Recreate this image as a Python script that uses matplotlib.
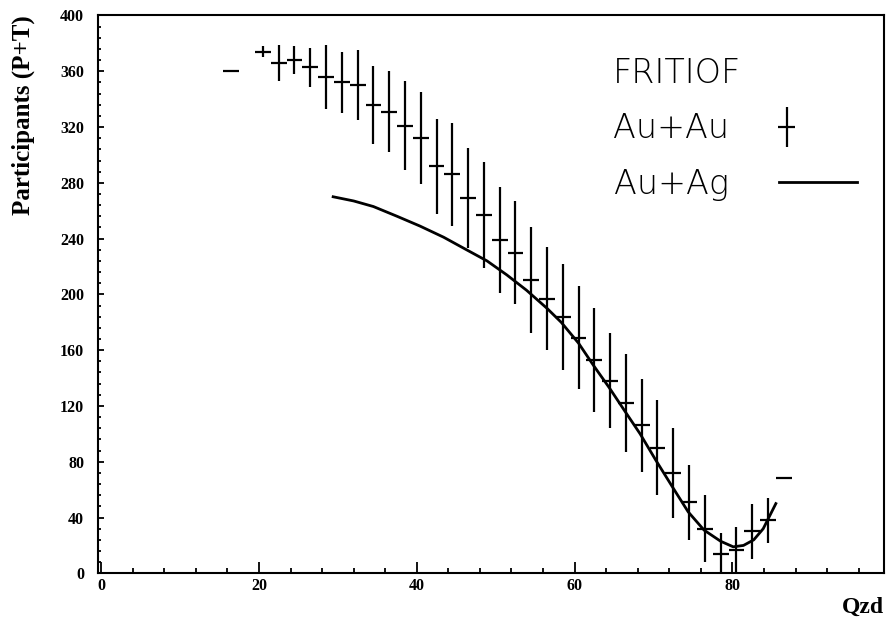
"""
FRITIOF participants vs Qzd: Au+Au histogram points with errors, Au+Ag curve.
"""

import matplotlib
matplotlib.use('Agg')
import matplotlib.pyplot as plt
from matplotlib.ticker import MultipleLocator
from matplotlib.legend_handler import HandlerErrorbar

# --- data ---
au_x = [16.5, 20.5, 22.5, 24.5, 26.5, 28.5, 30.5, 32.5, 34.5, 36.5, 38.5,
        40.5, 42.5, 44.5, 46.5, 48.5, 50.5, 52.5, 54.5, 56.5, 58.5, 60.5,
        62.5, 64.5, 66.5, 68.5, 70.5, 72.5, 74.5, 76.5, 78.5, 80.5, 82.5,
        84.5, 86.5]
au_y = [360, 374, 366, 368, 363, 356, 352, 350, 336, 331, 321,
        312, 292, 286, 269, 257, 239, 230, 210, 197, 184, 169,
        153, 138, 122, 106, 90, 72, 51, 32, 14, 17, 30,
        38, 68]
au_err = [0, 4, 13, 10, 14, 23, 22, 25, 28, 29, 32,
          33, 34, 37, 36, 38, 38, 37, 38, 37, 38, 37,
          37, 34, 35, 33, 34, 32, 27, 24, 15, 16, 20,
          16, 0]
bin_half_width = 1.0

ag_x = [29.4, 32.0, 34.5, 37.5, 40.4, 43.4, 46.3, 48.9, 51.4, 53.9, 56.5,
        58.3, 60.5, 62.4, 64.4, 66.4, 68.3, 70.3, 72.5, 74.4, 76.4, 78.5,
        80.1, 81.4, 82.7, 83.9, 85.5]
ag_y = [270, 267, 263, 256, 249, 241, 232, 224, 214, 203, 190,
        180, 165, 149, 133, 116, 100, 81, 61, 44, 31, 23,
        19, 20, 24, 32, 50]

serif = 'Liberation Serif'

fig = plt.figure(figsize=(8.86, 6.19), dpi=100)
ax = fig.add_axes([0.1106, 0.0738, 0.8871, 0.9012])

eb = ax.errorbar(au_x, au_y, xerr=bin_half_width, yerr=au_err, fmt='none',
                 ecolor='black', elinewidth=1.6, capsize=0, label='Au+Au')
line, = ax.plot(ag_x, ag_y, color='black', linewidth=2.0, label='Au+Ag')

ax.set_xlim(-0.4, 99.2)
ax.set_ylim(0, 400)

ax.xaxis.set_major_locator(MultipleLocator(20))
ax.xaxis.set_minor_locator(MultipleLocator(4))
ax.yaxis.set_major_locator(MultipleLocator(40))
ax.yaxis.set_minor_locator(MultipleLocator(8))

ax.tick_params(axis='both', which='both', direction='in', top=False, right=False,
               width=1.3)
ax.tick_params(axis='x', which='major', length=8, pad=3.5)
ax.tick_params(axis='x', which='minor', length=3.6)
ax.tick_params(axis='y', which='major', length=4.5, pad=10)
ax.tick_params(axis='y', which='minor', length=2.3)

for lab in ax.get_xticklabels() + ax.get_yticklabels():
    lab.set_fontfamily(serif)
    lab.set_fontweight('bold')
    lab.set_fontsize(11.5)

for sp in ax.spines.values():
    sp.set_linewidth(1.5)

ax.set_ylabel('Participants (P+T)', loc='top', fontfamily=serif,
              fontweight='bold', fontsize=18)
ax.yaxis.set_label_coords(-0.08, 1.0)
ax.set_xlabel('Qzd', loc='right', fontfamily=serif, fontweight='bold', fontsize=17)
ax.xaxis.set_label_coords(1.0, -0.042)

leg_font = {'family': 'DejaVu Sans', 'size': 24, 'weight': 'light'}
leg = ax.legend(handles=[eb, line], title='FRITIOF', markerfirst=False,
                frameon=False, loc='upper left', bbox_to_anchor=(0.655, 0.926),
                borderaxespad=0, borderpad=0, prop=leg_font,
                title_fontproperties=leg_font, alignment='left',
                handlelength=2.33, handletextpad=1.5, labelspacing=0.68,
                handler_map={eb: HandlerErrorbar(xerr_size=0.25, yerr_size=0.6,
                                                 xpad=-1.87)})

fig.savefig('out.png', dpi=100, facecolor='white')
